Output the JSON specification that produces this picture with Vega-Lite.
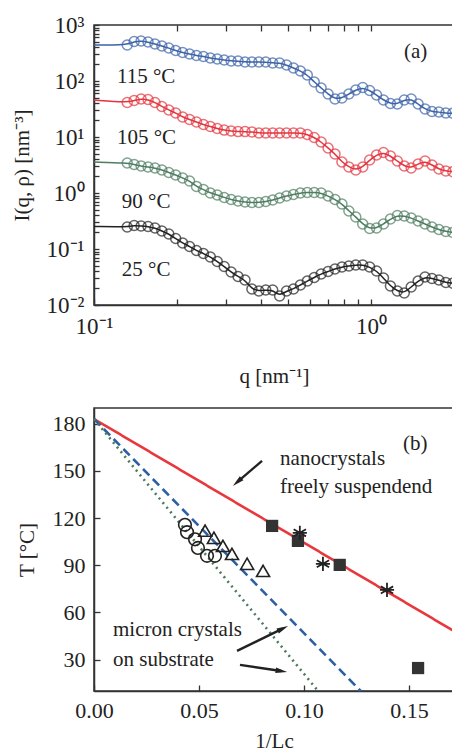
{
"$schema": "https://vega.github.io/schema/vega-lite/v6.json",
"background": "white",
"padding": {"left": 10, "top": 13, "right": 0, "bottom": 0},
"config": {
  "view": {"stroke": "#333", "strokeWidth": 1.5},
  "axis": {"labelFont": "Liberation Serif", "titleFont": "Liberation Serif", "titleFontWeight": "normal", "labelColor": "#222", "titleColor": "#222", "domainColor": "#333", "tickColor": "#333", "domainWidth": 1.5, "tickWidth": 1.3, "grid": false, "labelOverlap": false, "labelFlush": false},
  "text": {"font": "Liberation Serif", "color": "#222"}
},
"datasets": {
  "saxs": [
    {"s":"115","q":0.1,"I":439.5,"a":1},
    {"s":"115","q":0.1318,"I":439.5},{"s":"115","q":0.1396,"I":507},{"s":"115","q":0.1479,"I":518},{"s":"115","q":0.1567,"I":497},{"s":"115","q":0.1660,"I":458},{"s":"115","q":0.1758,"I":422},{"s":"115","q":0.1862,"I":388},{"s":"115","q":0.1972,"I":350},{"s":"115","q":0.2089,"I":323},{"s":"115","q":0.2213,"I":303},{"s":"115","q":0.2344,"I":285},{"s":"115","q":0.2483,"I":274},{"s":"115","q":0.2630,"I":257.5},{"s":"115","q":0.2786,"I":247},{"s":"115","q":0.2951,"I":237},{"s":"115","q":0.3126,"I":227.6},{"s":"115","q":0.3311,"I":227.6},{"s":"115","q":0.3508,"I":218.4},{"s":"115","q":0.3715,"I":218.4},{"s":"115","q":0.3936,"I":218.4},{"s":"115","q":0.4169,"I":218.4},{"s":"115","q":0.4416,"I":209.6},{"s":"115","q":0.4677,"I":209.6},{"s":"115","q":0.4955,"I":193},{"s":"115","q":0.5248,"I":170.7},{"s":"115","q":0.5559,"I":151},{"s":"115","q":0.5888,"I":128},{"s":"115","q":0.6237,"I":96},{"s":"115","q":0.6607,"I":75},{"s":"115","q":0.6998,"I":58.6},{"s":"115","q":0.7413,"I":47.7},{"s":"115","q":0.7852,"I":49.7},{"s":"115","q":0.8318,"I":58.6},{"s":"115","q":0.8810,"I":69},{"s":"115","q":0.9333,"I":76.5},{"s":"115","q":0.9886,"I":67.6},{"s":"115","q":1.0471,"I":56.2},{"s":"115","q":1.1092,"I":45.8},{"s":"115","q":1.1749,"I":39.6},{"s":"115","q":1.2445,"I":38.8},{"s":"115","q":1.3183,"I":45.8},{"s":"115","q":1.3964,"I":47.7},{"s":"115","q":1.4791,"I":38.8},{"s":"115","q":1.5668,"I":31.6},{"s":"115","q":1.6596,"I":28.5},{"s":"115","q":1.7579,"I":27.9},{"s":"115","q":1.8621,"I":26.8},{"s":"115","q":1.9724,"I":26.5},
    {"s":"105","q":0.1,"I":45.8,"a":1},
    {"s":"105","q":0.1318,"I":41.3},{"s":"105","q":0.1396,"I":44.9},{"s":"105","q":0.1479,"I":47.7},{"s":"105","q":0.1567,"I":46.7},{"s":"105","q":0.1660,"I":41.3},{"s":"105","q":0.1758,"I":35.1},{"s":"105","q":0.1862,"I":30.4},{"s":"105","q":0.1972,"I":26.8},{"s":"105","q":0.2089,"I":22.8},{"s":"105","q":0.2213,"I":20.5},{"s":"105","q":0.2344,"I":18.5},{"s":"105","q":0.2483,"I":16.7},{"s":"105","q":0.2630,"I":15.4},{"s":"105","q":0.2786,"I":14.2},{"s":"105","q":0.2951,"I":13.3},{"s":"105","q":0.3126,"I":12.8},{"s":"105","q":0.3311,"I":12.5},{"s":"105","q":0.3508,"I":12.5},{"s":"105","q":0.3715,"I":12.3},{"s":"105","q":0.3936,"I":11.8},{"s":"105","q":0.4169,"I":11.8},{"s":"105","q":0.4416,"I":11.8},{"s":"105","q":0.4677,"I":11.8},{"s":"105","q":0.4955,"I":11.8},{"s":"105","q":0.5248,"I":11.8},{"s":"105","q":0.5559,"I":11.8},{"s":"105","q":0.5888,"I":11.1},{"s":"105","q":0.6237,"I":9.8},{"s":"105","q":0.6607,"I":8.15},{"s":"105","q":0.6998,"I":6.36},{"s":"105","q":0.7413,"I":4.97},{"s":"105","q":0.7852,"I":3.58},{"s":"105","q":0.8318,"I":2.91},{"s":"105","q":0.8810,"I":2.58},{"s":"105","q":0.9333,"I":2.91},{"s":"105","q":0.9886,"I":3.88},{"s":"105","q":1.0471,"I":4.77},{"s":"105","q":1.1092,"I":5.29},{"s":"105","q":1.1749,"I":4.58},{"s":"105","q":1.2445,"I":3.73},{"s":"105","q":1.3183,"I":3.03},{"s":"105","q":1.3964,"I":2.79},{"s":"105","q":1.4791,"I":3.30},{"s":"105","q":1.5668,"I":3.73},{"s":"105","q":1.6596,"I":3.16},{"s":"105","q":1.7579,"I":2.68},{"s":"105","q":1.8621,"I":2.47},{"s":"105","q":1.9724,"I":2.4},
    {"s":"90","q":0.1,"I":3.58,"a":1},
    {"s":"90","q":0.1318,"I":3.43},{"s":"90","q":0.1396,"I":3.23},{"s":"90","q":0.1479,"I":3.03},{"s":"90","q":0.1567,"I":2.91},{"s":"90","q":0.1660,"I":2.79},{"s":"90","q":0.1758,"I":2.58},{"s":"90","q":0.1862,"I":2.32},{"s":"90","q":0.1972,"I":2.10},{"s":"90","q":0.2089,"I":1.85},{"s":"90","q":0.2213,"I":1.64},{"s":"90","q":0.2344,"I":1.31},{"s":"90","q":0.2483,"I":1.155},{"s":"90","q":0.2630,"I":1.0},{"s":"90","q":0.2786,"I":0.921},{"s":"90","q":0.2951,"I":0.832},{"s":"90","q":0.3126,"I":0.766},{"s":"90","q":0.3311,"I":0.720},{"s":"90","q":0.3508,"I":0.690},{"s":"90","q":0.3715,"I":0.676},{"s":"90","q":0.3936,"I":0.676},{"s":"90","q":0.4169,"I":0.705},{"s":"90","q":0.4416,"I":0.750},{"s":"90","q":0.4677,"I":0.815},{"s":"90","q":0.4955,"I":0.884},{"s":"90","q":0.5248,"I":0.940},{"s":"90","q":0.5559,"I":1.0},{"s":"90","q":0.5888,"I":1.02},{"s":"90","q":0.6237,"I":1.02},{"s":"90","q":0.6607,"I":1.0},{"s":"90","q":0.6998,"I":0.884},{"s":"90","q":0.7413,"I":0.766},{"s":"90","q":0.7852,"I":0.637},{"s":"90","q":0.8318,"I":0.477},{"s":"90","q":0.8810,"I":0.373},{"s":"90","q":0.9333,"I":0.279},{"s":"90","q":0.9886,"I":0.232},{"s":"90","q":1.0471,"I":0.237},{"s":"90","q":1.1092,"I":0.279},{"s":"90","q":1.1749,"I":0.343},{"s":"90","q":1.2445,"I":0.396},{"s":"90","q":1.3183,"I":0.388},{"s":"90","q":1.3964,"I":0.358},{"s":"90","q":1.4791,"I":0.316},{"s":"90","q":1.5668,"I":0.279},{"s":"90","q":1.6596,"I":0.247},{"s":"90","q":1.7579,"I":0.223},{"s":"90","q":1.8621,"I":0.205},{"s":"90","q":1.9724,"I":0.198},
    {"s":"25","q":0.1,"I":0.252,"a":1},
    {"s":"25","q":0.1318,"I":0.247},{"s":"25","q":0.1396,"I":0.263},{"s":"25","q":0.1479,"I":0.258},{"s":"25","q":0.1567,"I":0.252},{"s":"25","q":0.1660,"I":0.237},{"s":"25","q":0.1758,"I":0.210},{"s":"25","q":0.1862,"I":0.185},{"s":"25","q":0.1972,"I":0.154},{"s":"25","q":0.2089,"I":0.128},{"s":"25","q":0.2213,"I":0.111},{"s":"25","q":0.2344,"I":0.094},{"s":"25","q":0.2483,"I":0.0832},{"s":"25","q":0.2630,"I":0.0720},{"s":"25","q":0.2786,"I":0.0598},{"s":"25","q":0.2951,"I":0.0487},{"s":"25","q":0.3126,"I":0.0388},{"s":"25","q":0.3311,"I":0.0323},{"s":"25","q":0.3508,"I":0.0279},{"s":"25","q":0.3715,"I":0.0193},{"s":"25","q":0.3936,"I":0.0178},{"s":"25","q":0.4169,"I":0.0185},{"s":"25","q":0.4416,"I":0.0185},{"s":"25","q":0.4677,"I":0.0145},{"s":"25","q":0.4955,"I":0.0178},{"s":"25","q":0.5248,"I":0.0193},{"s":"25","q":0.5559,"I":0.0228},{"s":"25","q":0.5888,"I":0.0268},{"s":"25","q":0.6237,"I":0.0310},{"s":"25","q":0.6607,"I":0.0358},{"s":"25","q":0.6998,"I":0.0396},{"s":"25","q":0.7413,"I":0.0440},{"s":"25","q":0.7852,"I":0.0477},{"s":"25","q":0.8318,"I":0.0497},{"s":"25","q":0.8810,"I":0.0518},{"s":"25","q":0.9333,"I":0.0518},{"s":"25","q":0.9886,"I":0.0477},{"s":"25","q":1.0471,"I":0.0405},{"s":"25","q":1.1092,"I":0.0303},{"s":"25","q":1.1749,"I":0.0218},{"s":"25","q":1.2445,"I":0.0178},{"s":"25","q":1.3183,"I":0.0164},{"s":"25","q":1.3964,"I":0.0210},{"s":"25","q":1.4791,"I":0.0268},{"s":"25","q":1.5668,"I":0.0316},{"s":"25","q":1.6596,"I":0.0297},{"s":"25","q":1.7579,"I":0.0279},{"s":"25","q":1.8621,"I":0.0252},{"s":"25","q":1.9724,"I":0.0245}
  ],
  "labelsA": [
    {"x":0.121,"y":118,"t":"115 °C"},
    {"x":0.121,"y":9.6,"t":"105 °C"},
    {"x":0.126,"y":0.69,"t":"90 °C"},
    {"x":0.126,"y":0.0422,"t":"25 °C"},
    {"x":1.315,"y":330,"t":"(a)"}
  ],
  "tclines": [
    {"k":"red","x":0,"y":183},{"k":"red","x":0.1714,"y":48.1},
    {"k":"blue","x":0,"y":183},{"k":"blue","x":0.127,"y":10},
    {"k":"green","x":0,"y":183},{"k":"green","x":0.1067,"y":10}
  ],
  "tc": [
    {"m":"circle","x":0.0433,"y":115.7},{"m":"circle","x":0.0443,"y":111},{"m":"circle","x":0.0481,"y":106.5},{"m":"circle","x":0.0495,"y":101},{"m":"circle","x":0.0538,"y":96},{"m":"circle","x":0.0576,"y":96},
    {"m":"triangle","x":0.0529,"y":112},{"m":"triangle","x":0.0571,"y":107.4},{"m":"triangle","x":0.0614,"y":102.3},{"m":"triangle","x":0.0657,"y":97.2},{"m":"triangle","x":0.0729,"y":90.9},{"m":"triangle","x":0.0805,"y":86.4},
    {"m":"square","x":0.0848,"y":115},{"m":"square","x":0.0971,"y":105.5},{"m":"square","x":0.117,"y":90.2},{"m":"square","x":0.1543,"y":24.6},
    {"m":"star","x":0.098,"y":110.6},{"m":"star","x":0.109,"y":90.9},{"m":"star","x":0.1395,"y":74.3}
  ],
  "arrows": [
    {"x":0.080,"y":156.4,"x2":0.0683,"y2":143,"ang":229},
    {"x":0.0681,"y":35.5,"x2":0.0898,"y2":49.7,"ang":64},
    {"x":0.0695,"y":26.6,"x2":0.0891,"y2":22.7,"ang":98.5}
  ],
  "labelsB": [
    {"x":0.1471,"y":167.3,"t":"(b)"},
    {"x":0.0886,"y":157.7,"t":"nanocrystals"},
    {"x":0.0886,"y":139.9,"t":"freely suspendend"},
    {"x":0.00905,"y":48.8,"t":"micron crystals"},
    {"x":0.00905,"y":29.7,"t":"on substrate"}
  ]
},
"concat": [
  {
    "width": 360, "height": 280,
    "layer": [
      {
        "data": {"name": "saxs"},
        "mark": {"type": "line", "interpolate": "basis", "strokeWidth": 1.5, "clip": true},
        "encoding": {
          "x": {"field": "q", "type": "quantitative", "scale": {"type": "log", "domain": [0.1, 1.993], "nice": false},
                "axis": {"orient": "bottom", "values": [0.1,0.2,0.3,0.4,0.5,0.6,0.7,0.8,0.9,1], "labelExpr": "datum.value == 0.1 ? '10⁻¹' : datum.value == 1 ? '10⁰' : ''", "tickSize": -6, "labelPadding": 16, "labelFontSize": 23, "title": "q [nm⁻¹]", "titleFontSize": 21, "titlePadding": 27}},
          "y": {"field": "I", "type": "quantitative", "scale": {"type": "log", "domain": [0.01, 1000], "nice": false},
                "axis": {"values": [0.01,0.02,0.03,0.04,0.05,0.06,0.07,0.08,0.09,0.1,0.2,0.3,0.4,0.5,0.6,0.7,0.8,0.9,1,2,3,4,5,6,7,8,9,10,20,30,40,50,60,70,80,90,100,200,300,400,500,600,700,800,900,1000],
                         "labelExpr": "datum.value == 0.01 ? '10⁻²' : datum.value == 0.1 ? '10⁻¹' : datum.value == 1 ? '10⁰' : datum.value == 10 ? '10¹' : datum.value == 100 ? '10²' : datum.value == 1000 ? '10³' : ''",
                         "tickSize": -5, "labelPadding": 15, "labelFontSize": 23, "title": "I(q, ρ) [nm⁻³]", "titleFontSize": 21, "titlePadding": 14}},
          "color": {"field": "s", "type": "nominal", "scale": {"domain": ["115","105","90","25"], "range": ["#3c63a8","#e4343e","#4e7d60","#222222"]}, "legend": null},
          "order": {"field": "q", "type": "quantitative"}
        }
      },
      {
        "data": {"name": "saxs"},
        "transform": [{"filter": "!datum.a"}],
        "mark": {"type": "point", "shape": "circle", "filled": false, "size": 100, "strokeWidth": 1.5, "clip": true},
        "encoding": {
          "x": {"field": "q", "type": "quantitative", "axis": {"orient": "top", "values": [0.2,0.3,0.4,0.5,0.6,0.7,0.8,0.9,1], "labels": false, "domain": false, "tickSize": -6, "title": null}},
          "y": {"field": "I", "type": "quantitative"},
          "color": {"field": "s", "type": "nominal", "legend": null}
        }
      },
      {
        "data": {"name": "labelsA"},
        "mark": {"type": "text", "align": "left", "baseline": "middle", "fontSize": 21},
        "encoding": {
          "x": {"field": "x", "type": "quantitative", "axis": null},
          "y": {"field": "y", "type": "quantitative"},
          "text": {"field": "t"}
        }
      }
    ],
    "resolve": {"axis": {"x": "independent"}}
  },
  {
    "width": 360, "height": 283,
    "layer": [
      {
        "data": {"name": "tclines"},
        "mark": {"type": "line", "strokeWidth": 2.6},
        "encoding": {
          "x": {"field": "x", "type": "quantitative", "scale": {"domain": [0, 0.1714], "nice": false},
                "axis": {"values": [0, 0.05, 0.1, 0.15], "format": ".2f", "tickSize": -6, "labelPadding": 15, "labelFontSize": 22, "title": "1/Lc", "titleFontSize": 21, "titlePadding": 9}},
          "y": {"field": "y", "type": "quantitative", "scale": {"domain": [10, 190], "nice": false},
                "axis": {"values": [30, 60, 90, 120, 150, 180], "tickSize": -6, "labelPadding": 15, "labelFontSize": 22, "title": "T [°C]", "titleFontSize": 21, "titlePadding": 15}},
          "color": {"field": "k", "type": "nominal", "scale": {"domain": ["red","blue","green"], "range": ["#e8383d","#2d5fa6","#4b7a5c"]}, "legend": null},
          "strokeDash": {"field": "k", "type": "nominal", "scale": {"domain": ["red","blue","green"], "range": [[1,0],[9,5],[2,4]]}, "legend": null}
        }
      },
      {
        "data": {"name": "arrows"},
        "mark": {"type": "rule", "strokeWidth": 2.4, "color": "#222"},
        "encoding": {
          "x": {"field": "x", "type": "quantitative"},
          "y": {"field": "y", "type": "quantitative"},
          "x2": {"field": "x2"},
          "y2": {"field": "y2"}
        }
      },
      {
        "data": {"name": "arrows"},
        "mark": {"type": "point", "shape": "M0,-1L0.45,0.9L-0.45,0.9Z", "filled": true, "size": 150, "color": "#222", "opacity": 1},
        "encoding": {
          "x": {"field": "x2", "type": "quantitative"},
          "y": {"field": "y2", "type": "quantitative"},
          "angle": {"field": "ang", "type": "quantitative", "scale": null}
        }
      },
      {
        "data": {"name": "tc"},
        "transform": [{"filter": "datum.m == 'circle'"}],
        "mark": {"type": "point", "shape": "circle", "filled": false, "size": 160, "strokeWidth": 1.6, "color": "#222", "opacity": 1},
        "encoding": {"x": {"field": "x", "type": "quantitative"}, "y": {"field": "y", "type": "quantitative"}}
      },
      {
        "data": {"name": "tc"},
        "transform": [{"filter": "datum.m == 'triangle'"}],
        "mark": {"type": "point", "shape": "triangle-up", "filled": false, "size": 170, "strokeWidth": 1.6, "color": "#222", "opacity": 1},
        "encoding": {"x": {"field": "x", "type": "quantitative"}, "y": {"field": "y", "type": "quantitative"}}
      },
      {
        "data": {"name": "tc"},
        "transform": [{"filter": "datum.m == 'square'"}],
        "mark": {"type": "point", "shape": "square", "filled": true, "size": 150, "color": "#333", "opacity": 1},
        "encoding": {"x": {"field": "x", "type": "quantitative"}, "y": {"field": "y", "type": "quantitative"}}
      },
      {
        "data": {"name": "tc"},
        "transform": [{"filter": "datum.m == 'star'"}],
        "mark": {"type": "point", "shape": "M0,-1L0,1M-0.87,-0.5L0.87,0.5M-0.87,0.5L0.87,-0.5M-1,0L1,0", "filled": false, "size": 200, "strokeWidth": 1.8, "color": "#222", "opacity": 1},
        "encoding": {"x": {"field": "x", "type": "quantitative"}, "y": {"field": "y", "type": "quantitative"}}
      },
      {
        "data": {"name": "labelsB"},
        "mark": {"type": "text", "align": "left", "baseline": "middle", "fontSize": 21},
        "encoding": {
          "x": {"field": "x", "type": "quantitative"},
          "y": {"field": "y", "type": "quantitative"},
          "text": {"field": "t"}
        }
      }
    ]
  }
],
"columns": 1,
"spacing": 20,
"resolve": {"scale": {"color": "independent", "strokeDash": "independent"}}
}
